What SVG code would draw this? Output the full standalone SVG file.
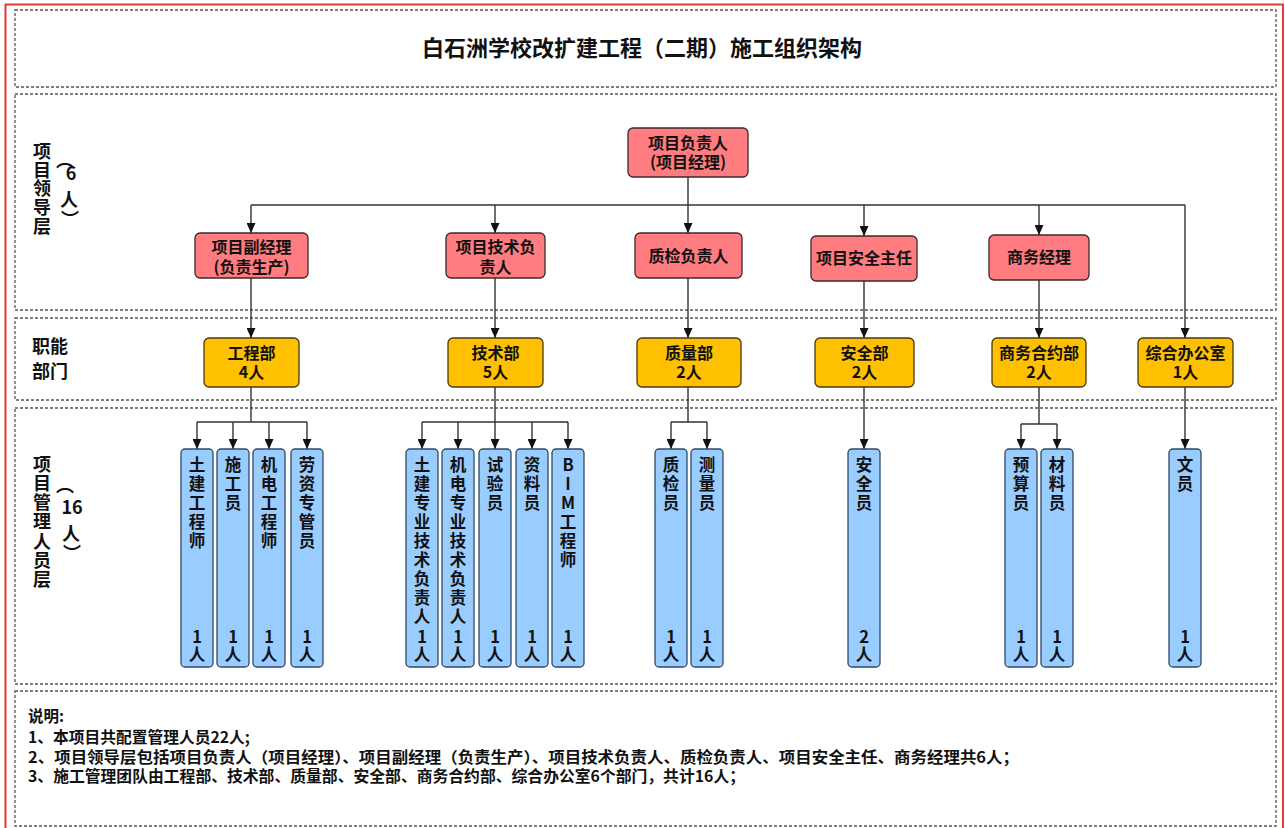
<svg xmlns="http://www.w3.org/2000/svg" width="1285" height="828" viewBox="0 0 1285 828">
<style>
.band{fill:none;stroke:#555;stroke-width:1.3;stroke-dasharray:3 2}
.red{fill:#FF7C80;stroke:#3a2a2a;stroke-width:1.3}
.org{fill:#FFC000;stroke:#4a3a10;stroke-width:1.3}
.blue{fill:#99CCFF;stroke:#2e4a66;stroke-width:1.3}
.t{font-family:"Noto Sans CJK SC","Noto Sans",sans-serif;font-weight:bold;fill:#111}
.c{text-anchor:middle}
.n16{font-size:16px}
.n17{font-size:16.5px}
.lbl{font-size:18px}
.note{font-size:15.5px}
.conn path{stroke:#333;stroke-width:1.4;fill:none}
.conn .a{marker-end:url(#arr)}
</style>
<defs>
<marker id="arr" markerUnits="userSpaceOnUse" markerWidth="10" markerHeight="9" refX="10" refY="4.5" orient="auto">
<path d="M0,0 L10,4.5 L0,9 z" fill="#111"/>
</marker>
</defs>
<rect x="0" y="0" width="1285" height="828" fill="#fff"/>
<rect x="5.5" y="4.5" width="1277.5" height="830" fill="none" stroke="#e23b3b" stroke-width="2"/>
<g id="bands">
<rect class="band" x="15" y="10" width="1261" height="77"/>
<rect class="band" x="15" y="94" width="1261" height="216"/>
<rect class="band" x="15" y="318" width="1261" height="82"/>
<rect class="band" x="15" y="408" width="1261" height="276"/>
<rect class="band" x="15" y="691" width="1261" height="135"/>
</g>
<text class="t c" x="642" y="56" style="font-size:22px">白石洲学校改扩建工程（二期）施工组织架构</text>
<g id="labels" class="t lbl">
<text class="c" x="42"><tspan x="42" y="158">项</tspan><tspan x="42" y="177">目</tspan><tspan x="42" y="195">领</tspan><tspan x="42" y="214">导</tspan><tspan x="42" y="233">层</tspan></text>
<text class="c" x="69"><tspan x="65" y="167">︵</tspan><tspan x="71" y="180">6</tspan><tspan x="69" y="206">人</tspan><tspan x="70" y="226">︶</tspan></text>
<text x="32" y="353">职能</text>
<text x="32" y="378">部门</text>
<text class="c" x="42"><tspan x="42" y="471">项</tspan><tspan x="42" y="490">目</tspan><tspan x="42" y="509">管</tspan><tspan x="42" y="528">理</tspan><tspan x="42" y="548">人</tspan><tspan x="42" y="567">员</tspan><tspan x="42" y="586">层</tspan></text>
<text class="c" x="71"><tspan x="65" y="492">︵</tspan><tspan x="72" y="514">16</tspan><tspan x="71" y="540">人</tspan><tspan x="72" y="560">︶</tspan></text>
</g>
<g class="conn" id="connectors">
<path d="M688,177 V205 M251,205 H1185"/>
<path class="a" d="M251,205 V233"/>
<path class="a" d="M495,205 V233"/>
<path class="a" d="M688,205 V233"/>
<path class="a" d="M864,205 V236"/>
<path class="a" d="M1039,205 V235"/>
<path class="a" d="M1185,205 V338"/>
<path class="a" d="M251,278 V338"/>
<path class="a" d="M495,278 V338"/>
<path class="a" d="M688,278 V338"/>
<path class="a" d="M864,281 V338"/>
<path class="a" d="M1039,280 V338"/>
<path d="M251,387 V422 M197,422 H307"/>
<path class="a" d="M197,422 V449"/>
<path class="a" d="M233,422 V449"/>
<path class="a" d="M269,422 V449"/>
<path class="a" d="M307,422 V449"/>
<path d="M495,387 V422 M422,422 H568"/>
<path class="a" d="M422,422 V449"/>
<path class="a" d="M458,422 V449"/>
<path class="a" d="M495,422 V449"/>
<path class="a" d="M532,422 V449"/>
<path class="a" d="M568,422 V449"/>
<path d="M688,387 V422 M671,422 H707"/>
<path class="a" d="M671,422 V449"/>
<path class="a" d="M707,422 V449"/>
<path class="a" d="M864,387 V449"/>
<path d="M1039,387 V424 M1021,424 H1057"/>
<path class="a" d="M1021,424 V449"/>
<path class="a" d="M1057,424 V449"/>
<path class="a" d="M1185,387 V449"/>
</g>
<g id="n-pm"><rect class="red" x="628" y="128" width="120" height="49" rx="5"/><text class="t c n16" x="688" y="149">项目负责人</text><text class="t c n16" x="688" y="168">(项目经理)</text></g>
<g id="n-dpm"><rect class="red" x="195" y="233" width="113" height="45" rx="5"/><text class="t c n16" x="251.5" y="252.5">项目副经理</text><text class="t c n16" x="251.5" y="272.5">(负责生产)</text></g>
<g id="n-tech"><rect class="red" x="446" y="233" width="99" height="45" rx="5"/><text class="t c n16" x="495.5" y="252.5">项目技术负</text><text class="t c n16" x="495.5" y="272.5">责人</text></g>
<g id="n-qc"><rect class="red" x="635" y="233" width="107" height="45" rx="5"/><text class="t c n16" x="688.5" y="261.5">质检负责人</text></g>
<g id="n-safe"><rect class="red" x="811" y="236" width="106" height="45" rx="5"/><text class="t c n16" x="864" y="264">项目安全主任</text></g>
<g id="n-biz"><rect class="red" x="989" y="235" width="100" height="45" rx="5"/><text class="t c n16" x="1039" y="263">商务经理</text></g>
<g id="d-eng"><rect class="org" x="204" y="338" width="95" height="49" rx="5"/><text class="t c n16" x="251.5" y="359">工程部</text><text class="t c n16" x="251.5" y="378">4人</text></g>
<g id="d-tech"><rect class="org" x="448" y="338" width="95" height="49" rx="5"/><text class="t c n16" x="495.5" y="359">技术部</text><text class="t c n16" x="495.5" y="378">5人</text></g>
<g id="d-qual"><rect class="org" x="637" y="338" width="104" height="49" rx="5"/><text class="t c n16" x="689" y="359">质量部</text><text class="t c n16" x="689" y="378">2人</text></g>
<g id="d-safe"><rect class="org" x="815" y="338" width="99" height="49" rx="5"/><text class="t c n16" x="864.5" y="359">安全部</text><text class="t c n16" x="864.5" y="378">2人</text></g>
<g id="d-biz"><rect class="org" x="992" y="338" width="94" height="49" rx="5"/><text class="t c n16" x="1039" y="359">商务合约部</text><text class="t c n16" x="1039" y="378">2人</text></g>
<g id="d-off"><rect class="org" x="1138" y="338" width="95" height="49" rx="5"/><text class="t c n16" x="1185.5" y="359">综合办公室</text><text class="t c n16" x="1185.5" y="378">1人</text></g>
<g id="p1"><rect class="blue" x="181" y="449" width="32" height="218" rx="4"/><text class="t c n17"><tspan x="197" y="471">土</tspan><tspan x="197" y="490">建</tspan><tspan x="197" y="509">工</tspan><tspan x="197" y="528">程</tspan><tspan x="197" y="547">师</tspan><tspan x="197" y="643">1</tspan><tspan x="197" y="661">人</tspan></text></g>
<g id="p2"><rect class="blue" x="217" y="449" width="32" height="218" rx="4"/><text class="t c n17"><tspan x="233" y="471">施</tspan><tspan x="233" y="490">工</tspan><tspan x="233" y="509">员</tspan><tspan x="233" y="643">1</tspan><tspan x="233" y="661">人</tspan></text></g>
<g id="p3"><rect class="blue" x="253" y="449" width="32" height="218" rx="4"/><text class="t c n17"><tspan x="269" y="471">机</tspan><tspan x="269" y="490">电</tspan><tspan x="269" y="509">工</tspan><tspan x="269" y="528">程</tspan><tspan x="269" y="547">师</tspan><tspan x="269" y="643">1</tspan><tspan x="269" y="661">人</tspan></text></g>
<g id="p4"><rect class="blue" x="291" y="449" width="32" height="218" rx="4"/><text class="t c n17"><tspan x="307" y="471">劳</tspan><tspan x="307" y="490">资</tspan><tspan x="307" y="509">专</tspan><tspan x="307" y="528">管</tspan><tspan x="307" y="547">员</tspan><tspan x="307" y="643">1</tspan><tspan x="307" y="661">人</tspan></text></g>
<g id="p5"><rect class="blue" x="406" y="449" width="32" height="218" rx="4"/><text class="t c n17"><tspan x="422" y="471">土</tspan><tspan x="422" y="490">建</tspan><tspan x="422" y="509">专</tspan><tspan x="422" y="528">业</tspan><tspan x="422" y="547">技</tspan><tspan x="422" y="566">术</tspan><tspan x="422" y="585">负</tspan><tspan x="422" y="604">责</tspan><tspan x="422" y="623">人</tspan><tspan x="422" y="643">1</tspan><tspan x="422" y="661">人</tspan></text></g>
<g id="p6"><rect class="blue" x="442" y="449" width="32" height="218" rx="4"/><text class="t c n17"><tspan x="458" y="471">机</tspan><tspan x="458" y="490">电</tspan><tspan x="458" y="509">专</tspan><tspan x="458" y="528">业</tspan><tspan x="458" y="547">技</tspan><tspan x="458" y="566">术</tspan><tspan x="458" y="585">负</tspan><tspan x="458" y="604">责</tspan><tspan x="458" y="623">人</tspan><tspan x="458" y="643">1</tspan><tspan x="458" y="661">人</tspan></text></g>
<g id="p7"><rect class="blue" x="479" y="449" width="32" height="218" rx="4"/><text class="t c n17"><tspan x="495" y="471">试</tspan><tspan x="495" y="490">验</tspan><tspan x="495" y="509">员</tspan><tspan x="495" y="643">1</tspan><tspan x="495" y="661">人</tspan></text></g>
<g id="p8"><rect class="blue" x="516" y="449" width="32" height="218" rx="4"/><text class="t c n17"><tspan x="532" y="471">资</tspan><tspan x="532" y="490">料</tspan><tspan x="532" y="509">员</tspan><tspan x="532" y="643">1</tspan><tspan x="532" y="661">人</tspan></text></g>
<g id="p9"><rect class="blue" x="552" y="449" width="32" height="218" rx="4"/><text class="t c n17"><tspan x="568" y="471">B</tspan><tspan x="568" y="490">I</tspan><tspan x="568" y="509">M</tspan><tspan x="568" y="528">工</tspan><tspan x="568" y="547">程</tspan><tspan x="568" y="566">师</tspan><tspan x="568" y="643">1</tspan><tspan x="568" y="661">人</tspan></text></g>
<g id="p10"><rect class="blue" x="655" y="449" width="32" height="218" rx="4"/><text class="t c n17"><tspan x="671" y="471">质</tspan><tspan x="671" y="490">检</tspan><tspan x="671" y="509">员</tspan><tspan x="671" y="643">1</tspan><tspan x="671" y="661">人</tspan></text></g>
<g id="p11"><rect class="blue" x="691" y="449" width="32" height="218" rx="4"/><text class="t c n17"><tspan x="707" y="471">测</tspan><tspan x="707" y="490">量</tspan><tspan x="707" y="509">员</tspan><tspan x="707" y="643">1</tspan><tspan x="707" y="661">人</tspan></text></g>
<g id="p12"><rect class="blue" x="848" y="449" width="32" height="218" rx="4"/><text class="t c n17"><tspan x="864" y="471">安</tspan><tspan x="864" y="490">全</tspan><tspan x="864" y="509">员</tspan><tspan x="864" y="643">2</tspan><tspan x="864" y="661">人</tspan></text></g>
<g id="p13"><rect class="blue" x="1005" y="449" width="32" height="218" rx="4"/><text class="t c n17"><tspan x="1021" y="471">预</tspan><tspan x="1021" y="490">算</tspan><tspan x="1021" y="509">员</tspan><tspan x="1021" y="643">1</tspan><tspan x="1021" y="661">人</tspan></text></g>
<g id="p14"><rect class="blue" x="1041" y="449" width="32" height="218" rx="4"/><text class="t c n17"><tspan x="1057" y="471">材</tspan><tspan x="1057" y="490">料</tspan><tspan x="1057" y="509">员</tspan><tspan x="1057" y="643">1</tspan><tspan x="1057" y="661">人</tspan></text></g>
<g id="p15"><rect class="blue" x="1169" y="449" width="32" height="218" rx="4"/><text class="t c n17"><tspan x="1185" y="471">文</tspan><tspan x="1185" y="490">员</tspan><tspan x="1185" y="643">1</tspan><tspan x="1185" y="661">人</tspan></text></g>
<g id="notes" class="t note">
<text x="28" y="722">说明:</text>
<text x="28" y="743" textLength="222" lengthAdjust="spacingAndGlyphs">1、本项目共配置管理人员22人;</text>
<text x="28" y="763" textLength="991" lengthAdjust="spacingAndGlyphs">2、项目领导层包括项目负责人（项目经理）、项目副经理（负责生产）、项目技术负责人、质检负责人、项目安全主任、商务经理共6人；</text>
<text x="28" y="782" textLength="717" lengthAdjust="spacingAndGlyphs">3、施工管理团队由工程部、技术部、质量部、安全部、商务合约部、综合办公室6个部门，共计16人；</text>
</g>
</svg>
